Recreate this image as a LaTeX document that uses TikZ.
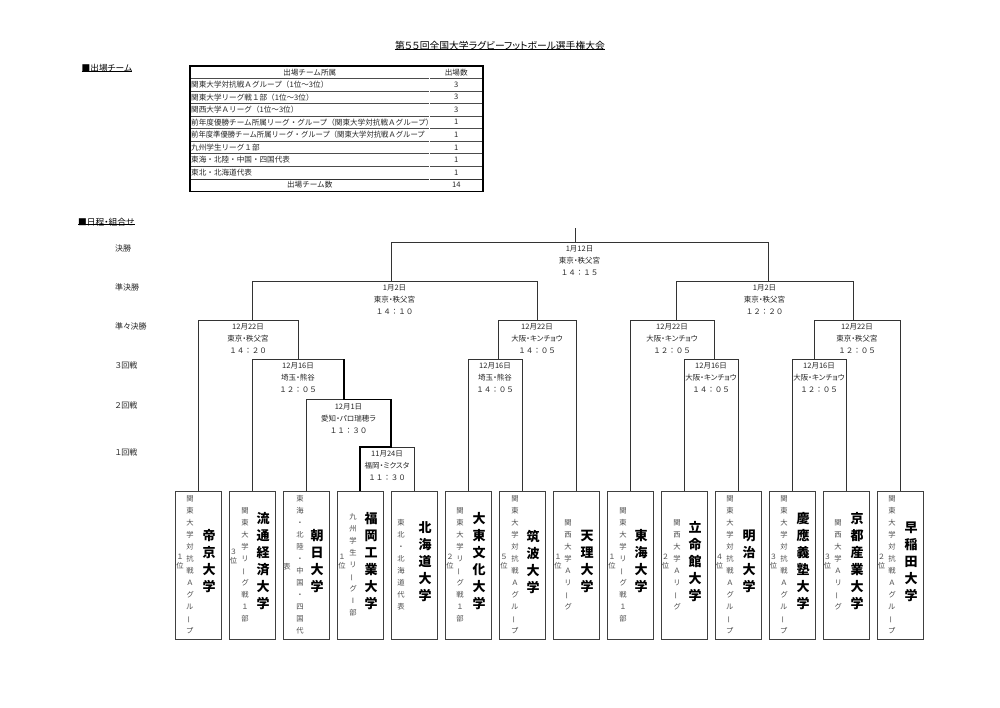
\documentclass[tikz,border=0pt]{standalone}
\usepackage{fontspec}
\setmainfont{Noto Sans CJK JP}[RawFeature=+palt]
\newfontfamily\plainjp{Noto Sans CJK JP}
\newcommand\vb{\rotatebox[origin=c]{90}{ー}}
\begin{document}
\begin{tikzpicture}[x=1pt,y=-1pt,
  br/.style={draw=black!80, line width=0.8pt},
  win/.style={draw=black, line width=1.8pt, line join=miter},
  lbl/.style={font=\fontsize{7.5}{12}\selectfont, text=black!85, align=center, inner sep=0pt},
  teambox/.style={draw=black!75, line width=0.8pt, fill=white, minimum width=46pt, minimum height=148pt, inner sep=0pt},
  tname/.style={font=\fontsize{13}{17}\selectfont\bfseries, align=center, inner sep=0pt},
  tsub/.style={font=\fontsize{7.3}{12}\selectfont, text=black!70, align=center, inner sep=0pt},
  trank/.style={font=\fontsize{7.3}{9.5}\selectfont, text=black!70, align=center, inner sep=0pt},
  rowlbl/.style={font=\fontsize{8}{10}\selectfont, anchor=west, inner sep=0pt, text=black!85},
  head/.style={font=\fontsize{8.7}{10}\selectfont, anchor=west, inner sep=0pt},
  tcell/.style={font=\plainjp\fontsize{7.6}{9}\selectfont, inner sep=0pt, text=black!85},
  tline/.style={draw=black!70, line width=0.5pt},
  tframe/.style={draw=black, line width=1.2pt}
]
\fill[white] (0,0) rectangle (1000,707);
\useasboundingbox (0,0) rectangle (1000,707);

% ---------- title and headings
\node[font=\fontsize{9.8}{11}\selectfont, inner sep=0pt] (title) at (500,46) {第５５回全国大学ラグビーフットボール選手権大会};
\draw[line width=0.6pt] ([yshift=1.5pt]title.south west) -- ([yshift=1.5pt]title.south east);
\node[head] (h1) at (81.5,68.3) {■出場チーム};
\draw[line width=0.6pt] ([yshift=1.5pt]h1.south west) -- ([yshift=1.5pt]h1.south east);
\node[head] (h2) at (78,221.7) {■日程・組合せ};
\draw[line width=0.6pt] ([yshift=1.5pt]h2.south west) -- ([yshift=1.5pt]h2.south east);

% ---------- table
\foreach \yy in {90.85,103.4,115.95,128.5,141.05,153.6,166.15}
  \draw[tline] (190,\yy) -- (483,\yy);
\draw[tline] (190,78.3) -- (483,78.3);
\draw[draw=black!80, double, double distance=0.9pt, line width=0.45pt] (190,178.7) -- (483,178.7);
\draw[draw=black!80, double, double distance=0.8pt, line width=0.45pt] (429.5,66) -- (429.5,191.25);
\draw[tframe] (190,66) rectangle (483,191.25);
\node[tcell] (th1) at (309.75,72.2) {出場チーム所属};
\node[tcell] (th2) at (456.25,72.2) {出場数};
\foreach \t [count=\i] in {
  関東大学対抗戦Ａグループ（1位～3位）,
  関東大学リーグ戦１部（1位～3位）,
  関西大学Ａリーグ（1位～3位）,
  前年度優勝チーム所属リーグ・グループ（関東大学対抗戦Ａグループ）,
  {\scalebox{0.965}[1]{前年度準優勝チーム所属リーグ・グループ（関東大学対抗戦Ａグループ}},
  九州学生リーグ１部,
  東海・北陸・中国・四国代表,
  東北・北海道代表}{
  \node[tcell, anchor=west] (tl\i) at (191,{78.3+12.55*\i-6.27}) {\t};
}
\foreach \n [count=\i] in {3,3,3,1,1,1,1,1}
  \node[tcell] (tn\i) at (456.25,{78.3+12.55*\i-6.27}) {\n};
\node[tcell] (ttot) at (309.75,185) {出場チーム数};
\node[tcell] (ttotn) at (456.25,185) {14};

% ---------- round labels
\node[rowlbl] (rl1) at (115,248.3) {決勝};
\node[rowlbl] (rl2) at (115,287) {準決勝};
\node[rowlbl] (rl3) at (115,326.7) {準々決勝};
\node[rowlbl] (rl4) at (115,365) {３回戦};
\node[rowlbl] (rl5) at (115,405) {２回戦};
\node[rowlbl] (rl6) at (115,452.7) {１回戦};

% ---------- team boxes
\foreach \i in {1,...,14}
  \node[teambox] (b\i) at ({198+54*(\i-1)},565) {};

% names
\node[tname] (n1) at (209,561.5) {帝\\京\\大\\学};
\node[tname] (n2) at (263,561.5) {流\\通\\経\\済\\大\\学};
\node[tname] (n3) at (317,561.5) {朝\\日\\大\\学};
\node[tname] (n4) at (371,561.5) {福\\岡\\工\\業\\大\\学};
\node[tname] (n5) at (425,561.5) {北\\海\\道\\大\\学};
\node[tname] (n6) at (479,561.5) {大\\東\\文\\化\\大\\学};
\node[tname] (n7) at (533,561.5) {筑\\波\\大\\学};
\node[tname] (n8) at (587,561.5) {天\\理\\大\\学};
\node[tname] (n9) at (641,561.5) {東\\海\\大\\学};
\node[tname] (n10) at (695,561.5) {立\\命\\館\\大\\学};
\node[tname] (n11) at (749,561.5) {明\\治\\大\\学};
\node[tname] (n12) at (803,561.5) {慶\\應\\義\\塾\\大\\学};
\node[tname] (n13) at (857,561.5) {京\\都\\産\\業\\大\\学};
\node[tname] (n14) at (911,561.5) {早\\稲\\田\\大\\学};

% sub texts
\newcommand\taikou{関\\東\\大\\学\\対\\抗\\戦\\Ａ\\グ\\ル\\\vb\\プ}
\newcommand\league{関\\東\\大\\学\\リ\\\vb\\グ\\戦\\１\\部}
\newcommand\kansai{関\\西\\大\\学\\Ａ\\リ\\\vb\\グ}
\node[tsub] (s1) at (190,564.5) {\taikou};
\node[tsub] (s2) at (245,564.5) {\league};
\node[tsub] (s3) at (300,564.5) {東\\海\\・\\北\\陸\\・\\中\\国\\・\\四\\国\\代};
\node[tsub] (s4) at (353,564.5) {九\\州\\学\\生\\リ\\\vb\\グ\\Ⅰ\\部};
\node[tsub] (s5) at (401,564.5) {東\\北\\・\\北\\海\\道\\代\\表};
\node[tsub] (s6) at (460,564.5) {\league};
\node[tsub] (s7) at (515,564.5) {\taikou};
\node[tsub] (s8) at (568,564.5) {\kansai};
\node[tsub] (s9) at (623,564.5) {\league};
\node[tsub] (s10) at (677,564.5) {\kansai};
\node[tsub] (s11) at (730,564.5) {\taikou};
\node[tsub] (s12) at (784,564.5) {\taikou};
\node[tsub] (s13) at (838,564.5) {\kansai};
\node[tsub] (s14) at (892,564.5) {\taikou};

% ranks
\node[trank] (k1) at (180,561.5) {１\\位};
\node[trank] (k2) at (233.5,556.5) {３\\位};
\node[trank] (k3) at (287,566.7) {表};
\node[trank] (k4) at (342,561.5) {１\\位};
\node[trank] (k6) at (450,561.5) {２\\位};
\node[trank] (k7) at (504,561.5) {５\\位};
\node[trank] (k8) at (558,561.5) {１\\位};
\node[trank] (k9) at (612,561.5) {１\\位};
\node[trank] (k10) at (665.5,561.5) {２\\位};
\node[trank] (k11) at (719.5,561.5) {４\\位};
\node[trank] (k12) at (773.5,561.5) {３\\位};
\node[trank] (k13) at (827.5,561.5) {３\\位};
\node[trank] (k14) at (881.5,561.5) {２\\位};

% ---------- bracket coordinates
\coordinate (top) at (575.5,228);
\coordinate (fl) at (391,242);  \coordinate (fr) at (768,242);
\coordinate (sal) at (252,281); \coordinate (sar) at (537,281);
\coordinate (sbl) at (676,281); \coordinate (sbr) at (853,281);
\coordinate (qal) at (198,320); \coordinate (qar) at (298,320);
\coordinate (qbl) at (498,320); \coordinate (qbr) at (576,320);
\coordinate (qcl) at (630,320); \coordinate (qcr) at (714,320);
\coordinate (qdl) at (814,320); \coordinate (qdr) at (900,320);
\coordinate (ral) at (252,359); \coordinate (rar) at (344,359);
\coordinate (rbl) at (468,359); \coordinate (rbr) at (522,359);
\coordinate (rcl) at (684,359); \coordinate (rcr) at (738,359);
\coordinate (rdl) at (792,359); \coordinate (rdr) at (846,359);
\coordinate (tl) at (306,399.5); \coordinate (tr) at (391,399.5);
\coordinate (ol) at (360,447); \coordinate (orr) at (414,447);

% horizontals
\draw[br] (fl) -- (fr);
\draw[br] (sal) -- (sar);
\draw[br] (sbl) -- (sbr);
\draw[br] (qal) -- (qar);
\draw[br] (qbl) -- (qbr);
\draw[br] (qcl) -- (qcr);
\draw[br] (qdl) -- (qdr);
\draw[br] (ral) -- (rar);
\draw[br] (rbl) -- (rbr);
\draw[br] (rcl) -- (rcr);
\draw[br] (rdl) -- (rdr);
\draw[br] (tl) -- (rar |- tl);
\draw[br] (tr |- ol) -- (orr);

% verticals
\draw[br] (top) -- (top |- fl);
\draw[br] (fl) -- (fl |- sal);
\draw[br] (fr) -- (fr |- sbl);
\draw[br] (sal) -- (sal |- qal);
\draw[br] (sar) -- (sar |- qbl);
\draw[br] (sbl) -- (sbl |- qcl);
\draw[br] (sbr) -- (sbr |- qdl);
\draw[br] (qal) -- (b1.north);
\draw[br] (qar) -- (qar |- ral);
\draw[br] (qbl) -- (qbl |- rbl);
\draw[br] (qbr) -- (b8.north);
\draw[br] (qcl) -- (b9.north);
\draw[br] (qcr) -- (qcr |- rcl);
\draw[br] (qdl) -- (qdl |- rdl);
\draw[br] (qdr) -- (b14.north);
\draw[br] (ral) -- (b2.north);
\draw[br] (rbl) -- (b6.north);
\draw[br] (rbr) -- (b7.north);
\draw[br] (rcl) -- (b10.north);
\draw[br] (rcr) -- (b11.north);
\draw[br] (rdl) -- (b12.north);
\draw[br] (rdr) -- (b13.north);
\draw[br] (tl) -- (b3.north);
\draw[br] (orr) -- (b5.north);
% winner path
\draw[win] (rar) -- (rar |- tl) -- (tr) -- (tr |- ol) -- (ol) -- (b4.north);

% ---------- match labels
\node[lbl] (lf)  at (579.5,261) {1月12日\\東京・秩父宮\\{\plainjp １４：１５}};
\node[lbl] (lsa) at (394.5,300) {1月2日\\東京・秩父宮\\{\plainjp １４：１０}};
\node[lbl] (lsb) at (764.5,300) {1月2日\\東京・秩父宮\\{\plainjp １２：２０}};
\node[lbl] (lqa) at (248,339) {12月22日\\東京・秩父宮\\{\plainjp １４：２０}};
\node[lbl] (lqb) at (537,339) {12月22日\\大阪・キンチョウ\\{\plainjp １４：０５}};
\node[lbl] (lqc) at (672,339) {12月22日\\大阪・キンチョウ\\{\plainjp １２：０５}};
\node[lbl] (lqd) at (857,339) {12月22日\\東京・秩父宮\\{\plainjp １２：０５}};
\node[lbl] (lra) at (298,378) {12月16日\\埼玉・熊谷\\{\plainjp １２：０５}};
\node[lbl] (lrb) at (495,378) {12月16日\\埼玉・熊谷\\{\plainjp １４：０５}};
\node[lbl] (lrc) at (711,378) {12月16日\\大阪・キンチョウ\\{\plainjp １４：０５}};
\node[lbl] (lrd) at (819,378) {12月16日\\大阪・キンチョウ\\{\plainjp １２：０５}};
\node[lbl] (lt)  at (348.5,418.5) {12月1日\\愛知・パロ瑞穂ラ\\{\plainjp １１：３０}};
\node[lbl] (lo)  at (387,466) {11月24日\\福岡・ミクスタ\\{\plainjp １１：３０}};
\end{tikzpicture}
\end{document}
